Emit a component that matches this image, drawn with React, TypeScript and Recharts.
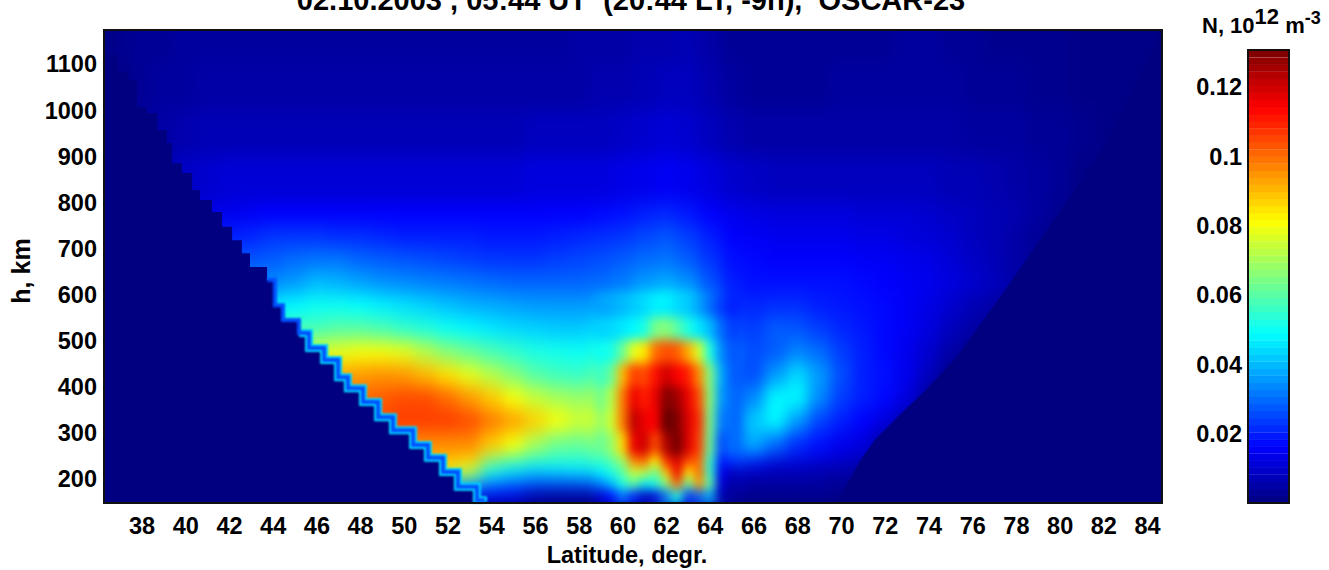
import React from 'react'
import { ComposedChart, ScatterChart, Scatter, Area, Line, XAxis, YAxis } from 'recharts'

// all densities in units of 10^9 m^-3 (0.12 on the colorbar = 120)
const LATS = [37, 38, 39, 40, 41, 42, 43, 44, 45, 46, 47, 48, 49, 50, 51, 52, 53, 54, 55, 56, 57, 58, 59, 60, 61, 62, 63, 64, 65, 66, 67, 68, 69, 70, 71, 72, 73, 74, 75, 76, 77, 78, 79, 80, 81, 82, 83, 84]
const HEIGHTS = [1150, 1050, 950, 850, 775, 725, 675, 625, 575, 525, 475, 425, 375, 325, 275, 237.5, 212.5, 187.5, 162.5]
const SPANS = [100, 100, 100, 100, 50, 50, 50, 50, 50, 50, 50, 50, 50, 50, 50, 25, 25, 25, 25]

const DENSITY = [
  [2,3,3,4,4,4,4,4,4,4, 4,4,4,4,4,4,4,4,4,4, 4,5,5,5,6,6,7,5,3,3, 3,3,3,3,3,3,4,4,3,3, 2,2,2,2,1,1,1,1],
  [1,3,4,4,5,5,5,5,5,5, 5,5,5,5,5,5,5,5,5,5, 5,5,6,6,7,8,8,6,4,3, 3,3,3,4,4,4,4,4,4,3, 3,3,2,2,1,1,1,1],
  [3,4,5,6,7,7,7,7,7,7, 7,7,7,7,7,7,7,7,7,8, 8,8,8,9,10,11,10,8,6,5, 5,5,5,5,5,5,5,5,5,4, 4,4,3,3,2,1,1,1],
  [4,5,7,9,10,11,11,11,11,11, 11,11,11,11,11,11,11,11,11,12, 12,12,12,13,14,15,14,12,10,9, 8,8,8,8,8,8,8,8,7,7, 6,5,4,3,1,1,1,1],
  [10,10,11,12,13,14,15,16,16,16, 16,16,16,16,16,16,16,16,16,16, 16,16,17,18,20,21,19,16,14,13, 12,12,12,12,11,11,11,10,9,8, 7,6,4,2,1,1,1,1],
  [16,16,16,18,19,20,21,23,23,23, 22,22,21,20,20,20,20,19,19,19, 20,21,22,23,25,27,24,20,16,15, 14,14,14,14,13,13,12,11,10,8, 7,5,3,2,1,1,1,1],
  [24,24,24,24,25,26,27,28,30,31, 31,29,28,27,26,25,24,23,23,23, 24,25,26,28,30,31,28,23,18,17, 16,16,16,16,15,15,14,13,11,9, 7,5,3,1,1,1,1,1],
  [32,32,32,32,32,32,33,34,36,40, 39,37,35,34,33,32,31,30,29,29, 29,29,30,32,36,38,35,27,20,18, 18,18,18,18,17,16,15,14,12,10, 8,5,3,1,1,1,1,1],
  [44,44,44,44,44,44,45,46,48,50, 50,49,47,45,43,41,39,38,37,36, 36,36,37,40,45,49,44,33,22,21, 22,22,20,19,18,17,15,13,10,7, 5,3,1,1,1,1,1,1],
  [56,56,56,56,56,56,56,56,57,58, 60,60,58,55,53,50,48,46,44,43, 42,42,44,48,53,68,62,48,26,24, 28,27,24,21,19,17,15,12,8,5, 3,1,1,1,1,1,1,1],
  [74,74,74,74,74,74,74,74,74,76, 78,80,80,78,72,66,62,58,55,52, 51,50,52,58,90,100,96,62,30,26, 28,33,30,24,20,17,14,10,5,2, 1,1,1,1,1,1,1,1],
  [90,90,90,90,90,90,90,90,90,90, 92,94,95,94,90,85,78,72,66,60, 57,56,60,85,104,112,108,65,28,26, 36,44,36,26,20,18,14,8,2,1, 1,1,1,1,1,1,1,1],
  [100,100,100,100,100,100,100,100,100,100, 100,100,102,104,104,100,94,88,80,74, 70,68,70,96,112,120,112,65,28,34, 48,48,34,24,20,17,12,4,1,1, 1,1,1,1,1,1,1,1],
  [104,104,104,104,104,104,104,104,104,104, 104,104,104,106,106,106,104,98,93,87, 80,75,76,95,115,125,116,65,28,42, 48,36,25,20,16,12,6,1,1,1, 1,1,1,1,1,1,1,1],
  [97,97,97,97,97,97,97,97,97,97, 97,97,97,97,96,96,96,88,80,70, 63,62,65,85,108,123,112,70,30,38, 30,22,18,14,12,4,1,1,1,1, 1,1,1,1,1,1,1,1],
  [85,85,85,85,85,85,85,85,85,85, 85,85,85,85,88,88,85,64,56,52, 52,52,55,68,95,105,105,60,26,18, 12,11,10,9,7,2,1,1,1,1, 1,1,1,1,1,1,1,1],
  [78,78,78,78,78,78,78,78,78,78, 78,78,78,78,80,80,72,50,45,42, 43,45,45,58,72,85,105,60,8,7, 7,7,6,5,4,1,1,1,1,1, 1,1,1,1,1,1,1,1],
  [42,42,42,42,42,42,42,42,42,42, 42,42,42,42,42,42,42,32,28,25, 25,25,28,50,55,80,80,70,8,4, 4,4,4,3,2,1,1,1,1,1, 1,1,1,1,1,1,1,1],
  [16,16,16,16,16,16,16,16,16,16, 16,16,16,16,16,16,16,16,14,5, 3,3,5,20,8,40,18,30,3,2, 2,2,2,1,1,1,1,1,1,1, 1,1,1,1,1,1,1,1],
]

// finer read of the blob at 59-65 degrees
const BLOB_LATS = [59, 59.5, 60, 60.5, 61, 61.5, 62, 62.5, 63, 63.5, 64, 64.5, 65]
const BLOB_HEIGHTS = [575, 525, 475, 425, 375, 325, 275, 237.5, 212.5, 187.5, 162.5]
const BLOB_SPANS = [50, 50, 50, 50, 50, 50, 50, 25, 25, 25, 25]
const BLOB = [
  [37, 38, 40, 42, 44, 47, 47, 44, 42, 37, 30, 24, 20],
  [43, 44, 46, 48, 52, 64, 66, 60, 52, 46, 40, 30, 24],
  [50, 52, 62, 78, 84, 100, 104, 102, 92, 76, 52, 34, 27],
  [56, 62, 90, 106, 104, 112, 120, 114, 110, 96, 65, 38, 28],
  [63, 72, 98, 116, 110, 116, 130, 126, 116, 104, 66, 36, 30],
  [68, 75, 98, 122, 116, 114, 134, 130, 118, 108, 64, 32, 30],
  [62, 68, 86, 116, 120, 104, 124, 132, 118, 106, 62, 26, 30],
  [55, 60, 68, 96, 100, 82, 108, 118, 104, 100, 55, 20, 22],
  [46, 52, 60, 74, 72, 62, 88, 116, 84, 100, 55, 14, 8],
  [32, 40, 52, 60, 46, 52, 66, 100, 60, 94, 60, 12, 5],
  [10, 18, 30, 20, 8, 12, 30, 50, 22, 28, 36, 6, 3],
]

// empty region under the satellite track, left side is stepped
const EDGE_LEFT_LAT = [36.26, 36.86, 37.36, 37.77, 38.2, 38.7, 39.14, 39.37, 39.83, 40.29, 40.65, 41.2, 41.66, 42.12, 42.57, 42.94, 43.72, 44.08, 44.45, 45.18, 45.64, 46.33, 46.97, 47.42, 48.11, 48.8, 49.48, 50.4, 51.08, 51.77, 52.45, 53.32, 53.6]
const EDGE_LEFT_H = [1120, 1083, 1065, 1007, 994, 957, 929, 885, 864, 827, 805, 779, 747, 718, 690, 660, 632, 577, 545, 517, 484, 458, 421, 397, 367, 334, 306, 274, 246, 215, 183, 154, 150]
const EDGE_RIGHT_LAT = [69.8, 70.85, 71.53, 72.67, 73.73, 75.28, 77.25, 77.8, 81.14, 82.3, 84.66]
const EDGE_RIGHT_H = [150, 240, 285, 340, 387, 465, 595, 632, 859, 946, 1174]

const LAT_TICKS = [38, 40, 42, 44, 46, 48, 50, 52, 54, 56, 58, 60, 62, 64, 66, 68, 70, 72, 74, 76, 78, 80, 82, 84]
const H_TICKS = [200, 300, 400, 500, 600, 700, 800, 900, 1000, 1100]
const BAR_TICKS = [20, 40, 60, 80, 100, 120]
const BAR_LABELS = ['0.02', '0.04', '0.06', '0.08', '0.1', '0.12']
const BAR_LEVELS = [1.1, 3.2, 5.2, 7.2, 9.3, 11.3, 13.3, 15.4, 17.4, 19.4, 21.5, 23.5, 25.6, 27.6, 29.6, 31.7, 33.7, 35.7, 37.8, 39.8, 41.9, 43.9, 45.9, 48.0, 50.0, 52.0, 54.1, 56.1, 58.1, 60.2, 62.2, 64.3, 66.3, 68.3, 70.4, 72.4, 74.4, 76.5, 78.5, 80.6, 82.6, 84.6, 86.7, 88.7, 90.7, 92.8, 94.8, 96.8, 98.9, 100.9, 103.0, 105.0, 107.0, 109.1, 111.1, 113.1, 115.2, 117.2, 119.3, 121.3, 123.3, 125.4, 127.4, 129.6]

const TITLE = '02.10.2003 , 05:44 UT  (20:44 LT, -9h),  OSCAR-23'

const LAT_DOMAIN: [number, number] = [36.26, 84.66]
const H_DOMAIN: [number, number] = [148, 1174]
const BAR_DOMAIN: [number, number] = [0.1, 130.6]
const PLOT = { left: 104, top: 30, width: 1058, height: 473 }
const BAR = { left: 1248, top: 50, width: 41, height: 453 }
const BAR_CHART_LEFT = 1170
const FONT = '"Liberation Sans", Arial, sans-serif'
const NAVY = '#000080'

const pxPerDeg = PLOT.width / (LAT_DOMAIN[1] - LAT_DOMAIN[0])
const pxPerKm = PLOT.height / (H_DOMAIN[1] - H_DOMAIN[0])
const pxPerLevel = BAR.height / (BAR_DOMAIN[1] - BAR_DOMAIN[0])

const clamp = (v: number) => Math.max(0, Math.min(1, v))

// matlab jet
const jet = (value: number) => {
  const t = value / 130
  const r = Math.round(255 * clamp(1.5 - Math.abs(4 * t - 3)))
  const g = Math.round(255 * clamp(1.5 - Math.abs(4 * t - 2)))
  const b = Math.round(255 * clamp(1.5 - Math.abs(4 * t - 1)))
  return `rgb(${r},${g},${b})`
}

const toCells = (lats: number[], heights: number[], spans: number[], grid: number[][], dLat: number) =>
  heights.flatMap((h, i) => lats.map((lat, j) => ({ lat, h, v: grid[i][j], dLat, dh: spans[i] })))

const mainCells = toCells(LATS, HEIGHTS, SPANS, DENSITY, 1)
const blobCells = toCells(BLOB_LATS, BLOB_HEIGHTS, BLOB_SPANS, BLOB, 0.5)
const barCells = BAR_LEVELS.map((v) => ({ x: 0, v }))
const leftEdge = EDGE_LEFT_LAT.map((lat, i) => ({ lat, h: EDGE_LEFT_H[i] }))
const rightEdge = EDGE_RIGHT_LAT.map((lat, i) => ({ lat, h: EDGE_RIGHT_H[i] }))
const fringe = leftEdge.slice(16)
const fringeWide = leftEdge.slice(19)

// eslint-disable-next-line @typescript-eslint/no-explicit-any
const HeatCell = (props: any) => {
  const { cx, cy, payload } = props
  const w = payload.dLat * pxPerDeg + 1
  const h = payload.dh * pxPerKm + 1
  return <rect x={cx - w / 2} y={cy - h / 2} width={w} height={h} fill={jet(payload.v)} />
}

// eslint-disable-next-line @typescript-eslint/no-explicit-any
const BarCell = (props: any) => {
  const { cy, payload } = props
  const h = 2.04 * pxPerLevel + 0.4
  return <rect x={BAR.left - BAR_CHART_LEFT} y={cy - h / 2} width={BAR.width} height={h} fill={jet(payload.v)} />
}

const tickStyle = { fontFamily: FONT, fontWeight: 700, fontSize: 23.5, fill: '#000' }

const absolute = (left: number, top: number): React.CSSProperties => ({ position: 'absolute', left, top })

export default function App() {
  return (
    <div style={{ position: 'absolute', left: 0, top: 0, width: 1329, height: 570, overflow: 'hidden', background: '#fff', fontFamily: FONT, fontWeight: 700, color: '#000' }}>
      <style>{`.heat-main{filter:url(#heatBlurMain)}.heat-blob{filter:url(#heatBlurBlob)}.edge-line{filter:url(#edgeBlur)}`}</style>
      <svg width={0} height={0} style={{ position: 'absolute' }}>
        <defs>
          <filter id="heatBlurMain" colorInterpolationFilters="sRGB" x="-5%" y="-5%" width="110%" height="110%">
            <feGaussianBlur stdDeviation="7 9" />
          </filter>
          <filter id="heatBlurBlob" colorInterpolationFilters="sRGB" x="-15%" y="-15%" width="130%" height="130%">
            <feGaussianBlur stdDeviation="5 5.5" />
          </filter>
          <filter id="edgeBlur" colorInterpolationFilters="sRGB" x="-5%" y="-5%" width="110%" height="110%">
            <feGaussianBlur stdDeviation="0.9" />
          </filter>
        </defs>
      </svg>

      <div style={{ ...absolute(PLOT.left, PLOT.top), width: PLOT.width, height: PLOT.height, background: NAVY }}>
        <ScatterChart width={PLOT.width} height={PLOT.height} margin={{ top: 0, right: 0, bottom: 0, left: 0 }}>
          <XAxis type="number" dataKey="lat" domain={LAT_DOMAIN} hide />
          <YAxis type="number" dataKey="h" domain={H_DOMAIN} hide />
          <Scatter className="heat-main" data={mainCells} shape={HeatCell} isAnimationActive={false} />
          <Scatter className="heat-blob" data={blobCells} shape={HeatCell} isAnimationActive={false} />
        </ScatterChart>
      </div>

      <div style={absolute(0, 0)}>
        <ComposedChart width={1329} height={570} margin={{ top: PLOT.top, right: 1329 - PLOT.left - PLOT.width, bottom: 7, left: 4 }}>
          <XAxis
            type="number"
            dataKey="lat"
            domain={LAT_DOMAIN}
            ticks={LAT_TICKS}
            interval={0}
            height={60}
            axisLine={false}
            tickLine={false}
            tickSize={0}
            tickMargin={14}
            tick={tickStyle}
            allowDataOverflow
          />
          <YAxis
            type="number"
            domain={H_DOMAIN}
            ticks={H_TICKS}
            interval={0}
            width={100}
            axisLine={false}
            tickLine={false}
            tickSize={0}
            tickMargin={7}
            tick={tickStyle}
            allowDataOverflow
          />
          <Line className="edge-line" data={fringeWide} dataKey="h" type="stepAfter" stroke="#00d8ff" strokeWidth={8} dot={false} isAnimationActive={false} />
          <Line className="edge-line" data={fringe} dataKey="h" type="stepAfter" stroke="#0050ff" strokeWidth={4} dot={false} isAnimationActive={false} />
          <Area data={leftEdge} dataKey="h" type="stepAfter" fill={NAVY} fillOpacity={1} stroke="none" isAnimationActive={false} />
          <Area data={rightEdge} dataKey="h" type="linear" fill={NAVY} fillOpacity={1} stroke="none" isAnimationActive={false} />
        </ComposedChart>
      </div>

      <div style={{ ...absolute(PLOT.left - 1, PLOT.top - 1), width: PLOT.width + 2, height: PLOT.height + 2, boxSizing: 'border-box', border: '2px solid #111' }} />

      <div style={absolute(BAR_CHART_LEFT, 0)}>
        <ScatterChart width={159} height={570} margin={{ top: BAR.top, right: 159 - (BAR.left - BAR_CHART_LEFT) - BAR.width, bottom: 570 - BAR.top - BAR.height, left: 0 }}>
          <XAxis type="number" dataKey="x" domain={[-1, 1]} hide />
          <YAxis
            type="number"
            dataKey="v"
            domain={BAR_DOMAIN}
            ticks={BAR_TICKS}
            interval={0}
            width={BAR.left - BAR_CHART_LEFT}
            axisLine={false}
            tickLine={false}
            tickSize={0}
            tickMargin={6}
            tick={tickStyle}
            tickFormatter={(v: number) => BAR_LABELS[BAR_TICKS.indexOf(v)]}
          />
          <Scatter data={barCells} shape={BarCell} isAnimationActive={false} />
        </ScatterChart>
      </div>
      <div style={{ ...absolute(BAR.left - 1, BAR.top - 1), width: BAR.width + 2, height: BAR.height + 2, boxSizing: 'border-box', border: '2px solid #111' }} />

      <div style={{ ...absolute(0, -14), width: 1262, textAlign: 'center', fontSize: 29, lineHeight: '28px', whiteSpace: 'pre' }}>{TITLE}</div>
      <div style={{ ...absolute(427, 542), width: 400, textAlign: 'center', fontSize: 23.5, lineHeight: '26px' }}>Latitude, degr.</div>
      <div style={{ ...absolute(-29, 258), width: 100, textAlign: 'center', fontSize: 25, lineHeight: '26px', transform: 'rotate(-90deg)' }}>h, km</div>
      <div style={{ ...absolute(1202, 15), fontSize: 22, lineHeight: '22px', whiteSpace: 'pre' }}>
        N, 10<span style={{ fontSize: 22, position: 'relative', top: -9 }}>12</span> m<span style={{ fontSize: 18, position: 'relative', top: -9 }}>-3</span>
      </div>
    </div>
  )
}
